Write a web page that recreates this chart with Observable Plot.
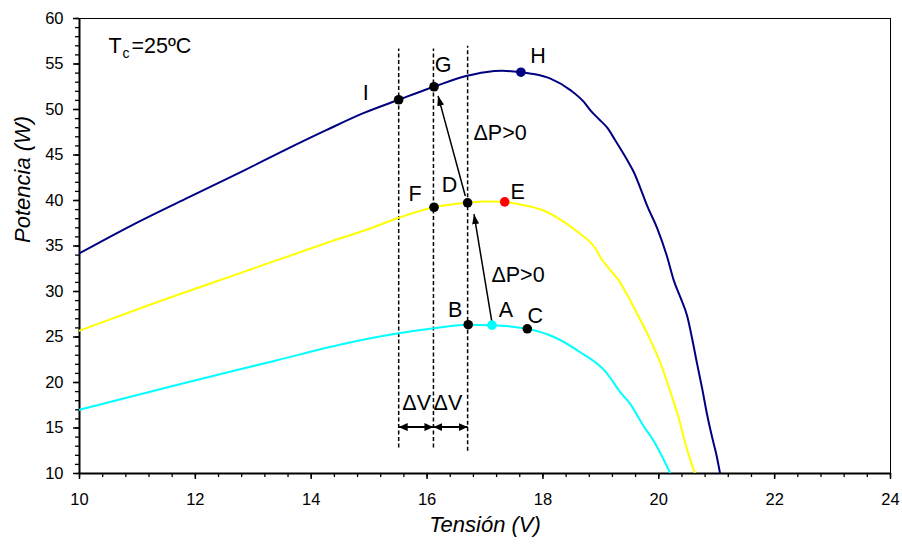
<!DOCTYPE html>
<html>
<head>
<meta charset="utf-8">
<script src="https://cdn.jsdelivr.net/npm/d3@7"></script>
<script src="https://cdn.jsdelivr.net/npm/@observablehq/plot@0.6"></script>
<style>
  body { margin: 0; background: #fff; }
</style>
</head>
<body>
<div id="chart"></div>
<script>
// P–V curves of a PV module at three irradiance levels (Tc = 25 ºC)
const vHigh = [10, 10.91, 11.9, 12.81, 13.5, 14.25, 14.9, 15.51, 16.12, 16.69, 17.0, 17.3, 17.62, 17.84, 18.13, 18.48, 18.71, 18.82, 18.96, 19.11, 19.25, 19.45, 19.57, 19.68, 19.8, 19.97, 20.14, 20.26, 20.37, 20.49, 20.57, 20.66, 20.75, 20.83, 20.92, 20.99, 21.07];
const pHigh = [34.2, 37.3, 40.4, 43.2, 45.4, 47.7, 49.6, 51.07, 52.5, 53.7, 54.1, 54.25, 54.1, 53.9, 53.4, 52.1, 50.8, 49.9, 48.98, 48.0, 46.6, 44.5, 43.1, 41.4, 39.4, 37.0, 33.9, 31.2, 29.4, 27.3, 25.0, 22.1, 19.3, 16.6, 14.0, 12.2, 9.6];

const vMid = [10, 11.37, 12.81, 14.25, 15.0, 15.51, 16.12, 16.7, 17.0, 17.34, 17.61, 18.01, 18.42, 18.65, 18.82, 18.91, 18.99, 19.17, 19.3, 19.45, 19.63, 19.8, 20.03, 20.23, 20.33, 20.45, 20.56, 20.66];
const pMid = [25.7, 28.9, 32.1, 35.3, 36.9, 38.1, 39.25, 39.75, 39.9, 39.85, 39.56, 38.9, 37.4, 36.3, 35.4, 34.7, 33.8, 32.3, 31.3, 29.7, 27.5, 25.4, 22.1, 18.4, 16.4, 13.5, 11.2, 9.4];

const vLow = [10, 11.66, 13.38, 14.53, 15.51, 16.12, 16.71, 17.12, 17.73, 18.19, 18.65, 19.08, 19.34, 19.5, 19.74, 19.9, 20.03, 20.23];
const pLow = [17.0, 19.7, 22.4, 24.2, 25.4, 25.95, 26.35, 26.3, 25.9, 25.0, 23.3, 21.2, 18.9, 17.7, 15.2, 13.7, 12.2, 9.6];

const curveColors = ["#000080", "#FFFF00", "#00FFFF"];

// Operating points of the perturb-and-observe sequence
const pointNames = ["I", "G", "H", "F", "D", "E", "B", "A", "C"];
const pointV = [15.51, 16.12, 17.62, 16.12, 16.7, 17.34, 16.71, 17.12, 17.73];
const pointP = [51.07, 52.5, 54.1, 39.26, 39.75, 39.85, 26.35, 26.3, 25.9];
const pointColors = ["#000000", "#000000", "#000080", "#000000", "#000000", "#FF0000", "#000000", "#00FFFF", "#000000"];

// Voltage steps (ΔV) marked by the dashed verticals
const stepV = [15.51, 16.11, 16.7];

// Axis ticks
const xTicks = [10, 12, 14, 16, 18, 20, 22, 24];
const yTicks = [10, 15, 20, 25, 30, 35, 40, 45, 50, 55, 60];

// ---- derived tables ----
const curves = [[vHigh, pHigh], [vMid, pMid], [vLow, pLow]].flatMap(([vs, ps], k) =>
  vs.map((v, i) => ({k, v, p: ps[i], color: curveColors[k]})));
const points = pointNames.map((name, i) => ({name, v: pointV[i], p: pointP[i], color: pointColors[i]}));

// label offsets (px) from each operating point
const labelOffset = {I: [-33, -7], G: [9, -22], H: [17, -16], F: [-19, -13], D: [-18, -18], E: [13, -10], B: [-13, -15], A: [14, -15], C: [8, -13]};

// dashed verticals span
const dashTop = [56.7, 56.7, 57.0];
const dashBottom = [12.85, 12.85, 12.5];
const dashes = stepV.map((v, i) => ({v, p1: dashBottom[i], p2: dashTop[i]}));

// ΔV double arrows and ΔP arrows
const dvArrows = [{v1: stepV[0], v2: stepV[1], p: 15.1}, {v1: stepV[1], v2: stepV[2], p: 15.1}];
const dpArrows = [{v1: 17.12, p1: 26.6, v2: 16.81, p2: 38.5}, {v1: 16.66, p1: 40.5, v2: 16.19, p2: 51.5}];

// filled triangular arrowhead
function filledHead(len, wid) {
  return (color) => {
    const ns = "http://www.w3.org/2000/svg";
    const m = document.createElementNS(ns, "marker");
    m.setAttribute("viewBox", `0 ${-wid / 2} ${len} ${wid}`);
    m.setAttribute("markerUnits", "userSpaceOnUse");
    m.setAttribute("markerWidth", len);
    m.setAttribute("markerHeight", wid);
    m.setAttribute("refX", len);
    m.setAttribute("refY", 0);
    m.setAttribute("orient", "auto-start-reverse");
    const path = document.createElementNS(ns, "path");
    path.setAttribute("d", `M0,${-wid / 2}L${len},0L0,${wid / 2}Z`);
    path.setAttribute("fill", color);
    path.setAttribute("stroke", "none");
    m.appendChild(path);
    return m;
  };
}

const font = "'Liberation Sans', Arial, Helvetica, sans-serif";
const minorX = d3.range(0, 36).map(i => 10 + i * 0.4);
const minorY = d3.range(10, 61);

const chart = Plot.plot({
  width: 902,
  height: 546,
  marginLeft: 79,
  marginRight: 12,
  marginTop: 18,
  marginBottom: 73,
  style: {fontFamily: font, fontSize: "16px", background: "#fff", color: "#000"},
  x: {domain: [10, 24]},
  y: {domain: [10, 60]},
  color: {type: "identity"},
  marks: [
    Plot.frame({stroke: "#000", strokeWidth: 1}),
    // minor ticks
    Plot.axisX({ticks: minorX, tickSize: 4, tickFormat: () => "", label: null, strokeWidth: 1.3}),
    Plot.axisY({ticks: minorY, tickSize: 4, tickFormat: () => "", label: null, strokeWidth: 1.3}),
    // major ticks with labels
    Plot.axisX({ticks: xTicks, tickSize: 6, tickPadding: 14, label: null, fontSize: 16.5, strokeWidth: 1.5}),
    Plot.axisY({ticks: yTicks, tickSize: 6, tickPadding: 10, label: null, fontSize: 16.5, strokeWidth: 1.5}),
    Plot.ruleX([10], {stroke: "#000", strokeWidth: 2}),
    Plot.ruleY([10], {stroke: "#000", strokeWidth: 2}),
    // dashed voltage steps
    Plot.link(dashes, {x1: "v", x2: "v", y1: "p1", y2: "p2", stroke: "#000", strokeWidth: 1.5, strokeDasharray: "4,2.5"}),
    // P–V curves
    Plot.line(curves, {x: "v", y: "p", z: "k", stroke: "color", strokeWidth: 2, curve: "monotone-x", clip: true}),
    // ΔV arrows
    Plot.link(dvArrows, {x1: "v1", x2: "v2", y1: "p", y2: "p", stroke: "#000", strokeWidth: 2,
      markerStart: filledHead(9, 8), markerEnd: filledHead(9, 8)}),
    // ΔP arrows
    Plot.link(dpArrows, {x1: "v1", y1: "p1", x2: "v2", y2: "p2", stroke: "#000", strokeWidth: 1.5,
      markerEnd: filledHead(10, 7)}),
    // operating points
    Plot.dot(points, {x: "v", y: "p", r: 4.8, fill: "color", stroke: "none"}),
    ...points.map(d => Plot.text([d], {x: "v", y: "p", text: "name", fontSize: 21.5, fill: "#000",
      dx: labelOffset[d.name][0], dy: labelOffset[d.name][1]})),
    // annotations
    Plot.text(["ΔP>0"], {x: 17.26, y: 47.42, fontSize: 21.5, fill: "#000"}),
    Plot.text(["ΔP>0"], {x: 17.57, y: 31.85, fontSize: 21.5, fill: "#000"}),
    Plot.text(["ΔV"], {x: 15.82, y: 17.75, fontSize: 21.5, fill: "#000"}),
    Plot.text(["ΔV"], {x: 16.36, y: 17.75, fontSize: 21.5, fill: "#000"}),
    // temperature note T_c = 25ºC
    Plot.text(["T"], {frameAnchor: "top-left", dx: 29, dy: 34, textAnchor: "start", lineAnchor: "bottom", fontSize: 21.5, fill: "#000"}),
    Plot.text(["c"], {frameAnchor: "top-left", dx: 43, dy: 39, textAnchor: "start", lineAnchor: "bottom", fontSize: 14, fill: "#000"}),
    Plot.text(["=25ºC"], {frameAnchor: "top-left", dx: 52, dy: 34, textAnchor: "start", lineAnchor: "bottom", fontSize: 21.5, fill: "#000"}),
    // axis titles
    Plot.text(["Tensión (V)"], {frameAnchor: "bottom", dy: 58, fontSize: 22, fontStyle: "italic", fill: "#000"}),
    Plot.text(["Potencia (W)"], {frameAnchor: "left", dx: -57, dy: -3, rotate: -90, fontSize: 22, fontStyle: "italic", fill: "#000"})
  ]
});
document.getElementById("chart").appendChild(chart);
</script>
</body>
</html>
